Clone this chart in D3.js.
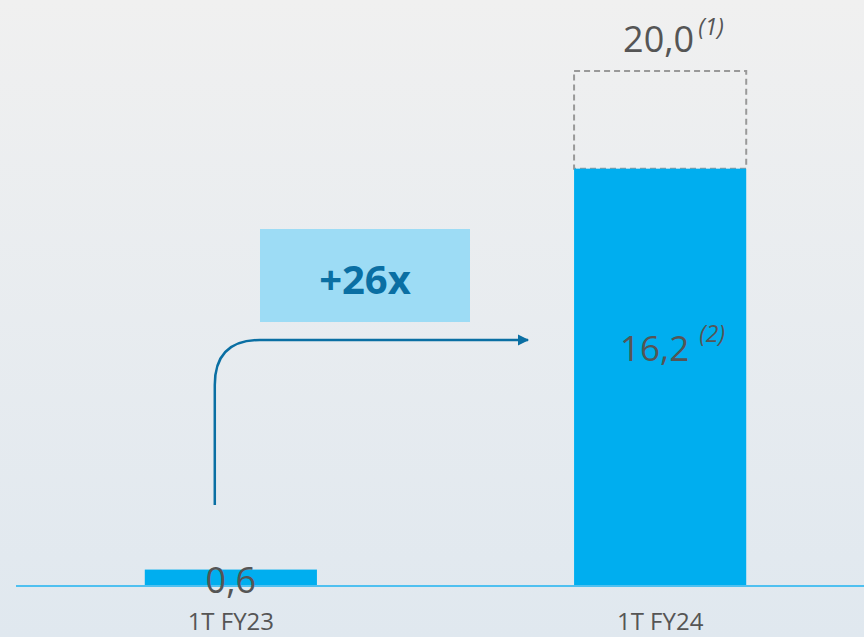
<!DOCTYPE html>
<html>
<head>
<meta charset="utf-8">
<script src="https://cdn.jsdelivr.net/npm/d3@7"></script>
<style>
  html, body { margin: 0; padding: 0; }
  body { width: 864px; height: 637px; overflow: hidden; }
  text { font-family: "Open Sans", "Noto Sans", sans-serif; }
</style>
</head>
<body>
<div id="target"></div>
<script>
var WIDTH = 864;
var HEIGHT = 637;

// data
var categories = ["1T FY23", "1T FY24"];
var values = [0.6, 16.2];
var valueLabels = ["0,6", "16,2"];
var targetValue = 20.0;
var targetLabel = "20,0";
var growthLabel = "+26x";

var svg = d3.select("#target").append("svg")
  .attr("width", WIDTH)
  .attr("height", HEIGHT);

var defs = svg.append("defs");
var grad = defs.append("linearGradient")
  .attr("id", "bg")
  .attr("x1", 0).attr("y1", 0).attr("x2", 0).attr("y2", 1);
grad.append("stop").attr("offset", "0%").attr("stop-color", "#f0f0f0");
grad.append("stop").attr("offset", "100%").attr("stop-color", "#e0e8ef");

defs.append("marker")
  .attr("id", "arrowhead")
  .attr("viewBox", "0 0 10 10")
  .attr("refX", 9).attr("refY", 5)
  .attr("markerWidth", 4.5).attr("markerHeight", 4.5)
  .attr("orient", "auto")
  .attr("markerUnits", "strokeWidth")
  .append("path")
  .attr("d", "M0,0 L10,5 L0,10 Z")
  .attr("fill", "#0a6fa3");

svg.append("rect")
  .attr("width", WIDTH).attr("height", HEIGHT)
  .attr("fill", "url(#bg)");

var x = d3.scaleBand()
  .domain(categories)
  .range([16, 875])
  .paddingInner(0.599)
  .paddingOuter(0.3);

var y = d3.scaleLinear()
  .domain([0, targetValue])
  .range([585, 71]);

var bw = x.bandwidth();

// target dashed box (20,0)
svg.append("rect")
  .attr("x", x(categories[1]))
  .attr("y", y(targetValue))
  .attr("width", bw)
  .attr("height", y(values[1]) - y(targetValue))
  .attr("fill", "none")
  .attr("stroke", "#999")
  .attr("stroke-width", 2)
  .attr("stroke-dasharray", "6,4");

// bars
svg.selectAll(".bar")
  .data(values)
  .enter().append("rect")
  .attr("class", "bar")
  .attr("x", function(d, i) { return x(categories[i]); })
  .attr("y", function(d) { return y(d); })
  .attr("width", bw)
  .attr("height", function(d) { return y(0) - y(d); })
  .attr("fill", "#00aeef");

// baseline
svg.append("line")
  .attr("x1", 16).attr("x2", WIDTH)
  .attr("y1", y(0) + 1).attr("y2", y(0) + 1)
  .attr("stroke", "#4fc0f0")
  .attr("stroke-width", 2);

// category labels
svg.selectAll(".cat")
  .data(categories)
  .enter().append("text")
  .attr("class", "cat")
  .attr("x", function(d) { return x(d) + bw / 2; })
  .attr("y", 630)
  .attr("text-anchor", "middle")
  .attr("font-size", 24)
  .attr("fill", "#555")
  .text(function(d) { return d; });

// value 0,6
svg.append("text")
  .attr("x", x(categories[0]) + bw / 2)
  .attr("y", y(0) + 8)
  .attr("text-anchor", "middle")
  .attr("font-size", 36)
  .attr("fill", "#555")
  .text(valueLabels[0]);

// value 16,2 with note (2)
var v2 = svg.append("text")
  .attr("x", x(categories[1]) + 46)
  .attr("y", 361)
  .attr("font-size", 35)
  .attr("fill", "#555");
v2.append("tspan").text(valueLabels[1]);
v2.append("tspan")
  .attr("dy", -19)
  .attr("dx", 10)
  .attr("font-size", 23)
  .attr("font-style", "italic")
  .text("(2)");

// target label 20,0 with note (1)
var t1 = svg.append("text")
  .attr("x", x(categories[1]) + 49)
  .attr("y", y(targetValue) - 19)
  .attr("font-size", 36)
  .attr("fill", "#555");
t1.append("tspan").text(targetLabel);
t1.append("tspan")
  .attr("dy", -17)
  .attr("dx", 4)
  .attr("font-size", 23)
  .attr("font-style", "italic")
  .text("(1)");

// growth arrow
var ax = x(categories[0]) + 70;
var ay0 = 505;
var ay1 = 340;
var aend = x(categories[1]) - 46;
var r = 45;
svg.append("path")
  .attr("d", "M" + ax + "," + ay0 +
    " L" + ax + "," + (ay1 + r) +
    " Q" + ax + "," + ay1 + " " + (ax + r) + "," + ay1 +
    " L" + aend + "," + ay1)
  .attr("fill", "none")
  .attr("stroke", "#0a6fa3")
  .attr("stroke-width", 2.5)
  .attr("marker-end", "url(#arrowhead)");

// growth box
svg.append("rect")
  .attr("x", 260).attr("y", 229)
  .attr("width", 210).attr("height", 93)
  .attr("fill", "#9ddcf5");

svg.append("text")
  .attr("x", 365)
  .attr("y", 294)
  .attr("text-anchor", "middle")
  .attr("font-size", 40)
  .attr("font-weight", "bold")
  .attr("fill", "#0a6fa3")
  .text(growthLabel);
</script>
</body>
</html>
